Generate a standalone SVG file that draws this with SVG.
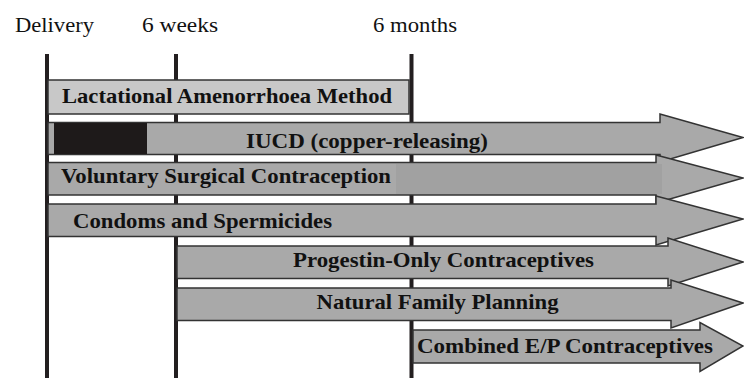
<svg xmlns="http://www.w3.org/2000/svg" width="744" height="378" viewBox="0 0 744 378">
<style>
.hdr{font-family:"Liberation Serif","Times New Roman",serif;font-size:20px;fill:#111}
.lbl{font-family:"Liberation Serif","Times New Roman",serif;font-size:21px;font-weight:bold;fill:#111}
.tl{stroke:#231f20;stroke-width:4}
.bar{fill:#a9a9a9;stroke:#333;stroke-width:1.5;stroke-linejoin:miter}
.lam{fill:#c8c8c8;stroke:#333;stroke-width:1.5}
</style>
<rect width="744" height="378" fill="#fff"/>
<g id="headers">
<text class="hdr" x="15" y="32" textLength="79" lengthAdjust="spacingAndGlyphs">Delivery</text>
<text class="hdr" x="142" y="32" textLength="76" lengthAdjust="spacingAndGlyphs">6 weeks</text>
<text class="hdr" x="373" y="32" textLength="84" lengthAdjust="spacingAndGlyphs">6 months</text>
</g>
<g id="timeline-lines">
<line class="tl" x1="47" y1="54" x2="47" y2="378"/>
<line class="tl" x1="176" y1="54" x2="176" y2="378"/>
<line class="tl" x1="411.5" y1="54" x2="411.5" y2="378"/>
</g>
<g id="lam">
<rect class="lam" x="48" y="80" width="361" height="34"/>
<text class="lbl" x="62" y="103" textLength="330" lengthAdjust="spacingAndGlyphs">Lactational Amenorrhoea Method</text>
</g>
<g id="iucd">
<polygon class="bar" points="48,122.5 660,122.5 660,114 743,137.5 660,162 660,154.5 48,154.5"/>
<rect x="54" y="123" width="93" height="31" fill="#1e1a1a"/>
<text class="lbl" x="246" y="148" textLength="242" lengthAdjust="spacingAndGlyphs">IUCD (copper-releasing)</text>
</g>
<g id="vsc">
<polygon class="bar" points="48,162.5 656,162.5 656,155 743,178 656,203 656,195 48,195"/>
<rect x="396" y="164" width="266" height="30" fill="#a1a1a1"/>
<text class="lbl" x="61" y="183" textLength="330" lengthAdjust="spacingAndGlyphs">Voluntary Surgical Contraception</text>
</g>
<g id="condoms">
<polygon class="bar" points="48,204 656,204 656,196 743,219 656,245 656,236.5 48,236.5"/>
<text class="lbl" x="73" y="228" textLength="259" lengthAdjust="spacingAndGlyphs">Condoms and Spermicides</text>
</g>
<g id="progestin">
<polygon class="bar" points="177,246 668,246 668,238 743,262 668,286 668,278.5 177,278.5"/>
<text class="lbl" x="293" y="266.5" textLength="301" lengthAdjust="spacingAndGlyphs">Progestin-Only Contraceptives</text>
</g>
<g id="nfp">
<polygon class="bar" points="177,288 671,288 671,280 743,303 671,328 671,320.5 177,320.5"/>
<text class="lbl" x="316.5" y="309" textLength="242" lengthAdjust="spacingAndGlyphs">Natural Family Planning</text>
</g>
<g id="combined">
<polygon class="bar" points="413,330 700,330 700,322.5 743,346 700,371.5 700,363 413,363"/>
<text class="lbl" x="417" y="353" textLength="296" lengthAdjust="spacingAndGlyphs">Combined E/P Contraceptives</text>
</g>
</svg>
